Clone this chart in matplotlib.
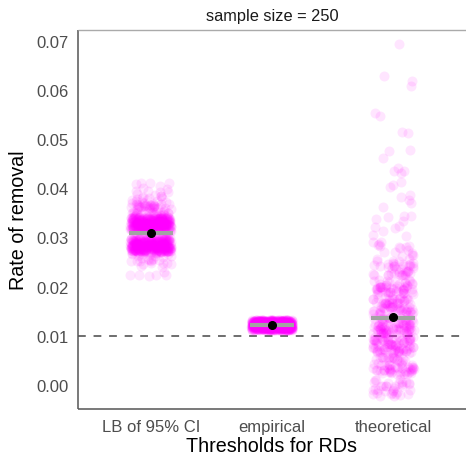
import numpy as np
import matplotlib
matplotlib.use("Agg")
import matplotlib.pyplot as plt

plt.rcParams['font.family'] = ['Liberation Sans', 'DejaVu Sans']
plt.rcParams['axes.grid'] = False

# ---- data ----
categories = ["LB of 95% CI", "empirical", "theoretical"]

lb_values = [0.0235, 0.0255, 0.0285, 0.0327, 0.0355, 0.0375, 0.0400]
lb_counts = [10, 25, 330, 330, 50, 25, 12]

emp_values = [0.0122]
emp_counts = [700]

theo_values = [-0.0005, 0.004, 0.008, 0.012, 0.016, 0.020, 0.024, 0.028, 0.032,
               0.036, 0.040, 0.044, 0.048, 0.052, 0.056, 0.060, 0.064, 0.068]
theo_counts = [35, 65, 85, 85, 70, 55, 42, 16, 8,
               6, 5, 4, 3, 2, 2, 2, 1, 1]

group_means = [0.0310, 0.0122, 0.0138]
group_medians = [0.0309, 0.0122, 0.0137]

threshold = 0.01
y_ticks = [0.00, 0.01, 0.02, 0.03, 0.04, 0.05, 0.06, 0.07]
strip_title = "sample size = 250"
x_title = "Thresholds for RDs"
y_title = "Rate of removal"

# ---- figure ----
fig = plt.figure(figsize=(4.66, 4.60), dpi=100)
fig.patch.set_facecolor("white")
ax = fig.add_axes([78 / 466, 1 - 410 / 460, 1 - 78 / 466, (410 - 31) / 460])
ax.set_frame_on(False)
ax.grid(False)

rng = np.random.default_rng(7)  # jitter offsets only (presentation)
groups = [(lb_values, lb_counts, 0.0014), (emp_values, emp_counts, 0.0010),
          (theo_values, theo_counts, 0.0018)]
for i, (vals, cnts, jh) in enumerate(groups):
    y = np.repeat(np.array(vals), cnts)
    xj = (i + 1) + rng.uniform(-0.17, 0.17, size=y.size)
    yj = y + rng.uniform(-jh, jh, size=y.size)
    ax.scatter(xj, yj, s=52, color="#FF00FF", alpha=0.10, linewidths=0, zorder=2)

for i in range(3):
    ax.plot([i + 1 - 0.18, i + 1 + 0.18], [group_medians[i]] * 2,
            color="#A3A3A3", lw=3.0, solid_capstyle="butt", zorder=3)
    ax.plot([i + 1], [group_means[i]], "o", color="black", ms=5.5, zorder=4)

ax.axhline(threshold, color="#6E6E6E", lw=1.4, ls=(0, (4, 4)), zorder=1)

ax.set_xlim(0.4, 3.6)
ax.set_ylim(-0.00488, 0.0722)
ax.set_xticks([1, 2, 3])
ax.set_xticklabels(categories)
ax.set_yticks(y_ticks)
ax.set_yticklabels([f"{v:.2f}" for v in y_ticks])
ax.tick_params(axis="both", length=0, labelsize=12, labelcolor="#4D4D4D")
ax.tick_params(axis="y", pad=7)
ax.tick_params(axis="x", pad=7)

# frame lines drawn by hand: left, bottom (dark), top (light gray)
ax.plot([0, 0], [0, 1], transform=ax.transAxes, color="#555555", lw=1.1,
        clip_on=False, zorder=5, solid_capstyle="butt")
ax.plot([0, 1], [0, 0], transform=ax.transAxes, color="#555555", lw=1.1,
        clip_on=False, zorder=5, solid_capstyle="butt")
ax.plot([0, 1], [1, 1], transform=ax.transAxes, color="#AAAAAA", lw=1.0,
        clip_on=False, zorder=5, solid_capstyle="butt")

ax.set_xlabel(x_title, fontsize=14.2, color="black", labelpad=2)
ax.set_ylabel(y_title, fontsize=14.2, color="black", labelpad=6)
ax.set_title(strip_title, fontsize=11.8, color="#1A1A1A", pad=7)

fig.savefig("out.png", dpi=100, facecolor="white")
